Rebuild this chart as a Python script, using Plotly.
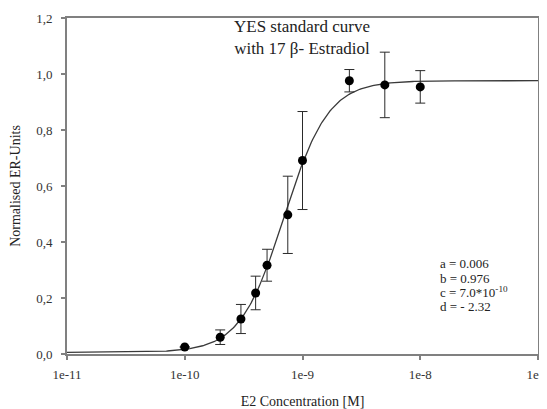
import numpy as np
import plotly.graph_objects as go

# measured data
conc = [1e-10, 2e-10, 3e-10, 4e-10, 5e-10, 7.5e-10, 1e-9, 2.5e-9, 5e-9, 1e-8]
resp = [0.025, 0.060, 0.125, 0.218, 0.317, 0.497, 0.691, 0.976, 0.961, 0.954]
err = [0.000, 0.026, 0.052, 0.060, 0.057, 0.138, 0.175, 0.040, 0.117, 0.058]

# fitted 4-parameter logistic parameters (as given in the chart)
fit_a, fit_b, fit_c, fit_d = 0.006, 0.976, 7.0e-10, -2.32

x_tickvals = [1e-11, 1e-10, 1e-9, 1e-8, 1e-7]
x_ticktext = ["1e-11", "1e-10", "1e-9", "1e-8", "1e-7"]
y_tickvals = [0.0, 0.2, 0.4, 0.6, 0.8, 1.0, 1.2]
y_ticktext = ["0,0", "0,2", "0,4", "0,6", "0,8", "1,0", "1,2"]
param_lines = ["a = 0.006", "b = 0.976", "c = 7.0*10<sup>-10</sup>", "d = - 2.32"]

xf = np.logspace(-11, -7, 400)
yf = fit_a + (fit_b - fit_a) / (1 + (xf / fit_c) ** fit_d)

FONT = "Liberation Serif"
AX = "#808080"
# plot-area edges in page pixels; the page body adds an 8px offset
OFF = 8
W, H = 560, 409 - OFF
L, R, T, B = 67, 538, 18, 354


def px(x):
    return (x - L) / (R - L)


def py(y):
    return 1 - (y - T) / (B - T)


fig = go.Figure()
fig.add_trace(go.Scatter(x=xf, y=yf, mode="lines",
                         line=dict(color="#3a3a3a", width=1.3),
                         hoverinfo="skip", showlegend=False))
fig.add_trace(go.Scatter(x=conc, y=resp, mode="markers",
                         marker=dict(color="black", size=9),
                         error_y=dict(type="data", array=err, visible=True,
                                      color="#2a2a2a", thickness=1, width=5),
                         showlegend=False))

fig.update_layout(
    width=W, height=H,
    margin=dict(l=L - OFF, r=W - (R - OFF), t=T - OFF, b=H - (B - OFF)),
    paper_bgcolor="white", plot_bgcolor="white",
    font=dict(family=FONT, size=12, color="#222222"),
    showlegend=False,
)
fig.update_xaxes(type="log", range=[-11, -7], tickvals=x_tickvals, ticktext=x_ticktext,
                 automargin=False, ticklabeloverflow="allow",
                 showgrid=False, zeroline=False, showline=True, linecolor=AX, linewidth=2,
                 mirror=True, ticks="outside", ticklen=4, tickcolor=AX, tickwidth=1.5,
                 ticklabelstandoff=3,
                 tickfont=dict(family=FONT, size=13, color="#333333"),
                 title=dict(text="E2 Concentration [M]", font=dict(family=FONT, size=14, color="#222222"),
                            standoff=16))
fig.update_yaxes(range=[0, 1.2], tickvals=y_tickvals, ticktext=y_ticktext,
                 automargin=False,
                 showgrid=False, zeroline=False, showline=True, linecolor=AX, linewidth=2,
                 mirror=True, ticks="outside", ticklen=4, tickcolor=AX, tickwidth=1.5,
                 ticklabelstandoff=6,
                 tickfont=dict(family=FONT, size=13, color="#333333"),
                 title=dict(text="Normalised ER-Units", font=dict(family=FONT, size=14, color="#222222"),
                            standoff=12))

fig.add_annotation(x=px(302), y=py(37), xref="paper", yref="paper", showarrow=False,
                   xanchor="center", yanchor="middle", align="center",
                   text="YES standard curve<br>with 17 β- Estradiol",
                   font=dict(family=FONT, size=17, color="#222222"))

for i, line in enumerate(param_lines):
    fig.add_annotation(x=px(438), y=py(264 + 14 * i), xref="paper", yref="paper",
                       showarrow=False, xanchor="left", yanchor="middle", align="left",
                       text=line, font=dict(family=FONT, size=13, color="#222222"))

fig.write_html("out.html")
